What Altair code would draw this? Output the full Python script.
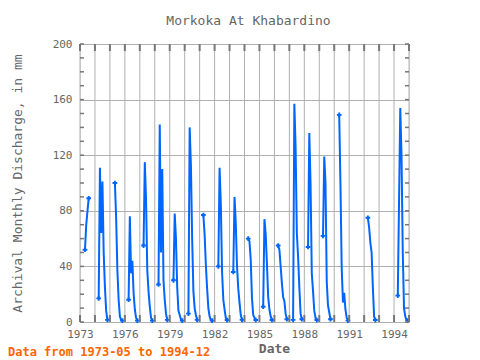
import altair as alt
import pandas as pd

# ---- data (monthly discharge, mm) ----
season_years = [1973, 1974, 1975, 1976, 1977, 1978, 1979, 1980, 1981, 1982,
                1983, 1984, 1985, 1986, 1987, 1988, 1989, 1990, 1992, 1994]
start_months = [5, 4, 5, 4, 4, 4, 4, 4, 4, 4,
                4, 4, 4, 4, 4, 4, 4, 5, 4, 4]
v1973 = [52, 70, 80, 89]
v1974 = [17, 111, 64, 101, 50, 25, 8, 1.5]
v1975 = [100, 75, 37, 16, 4, 1.5, 1]
v1976 = [16, 76, 35, 44, 21, 9, 3, 1]
v1977 = [55, 115, 88, 37, 22, 11, 3, 1]
v1978 = [27, 142, 50, 110, 30, 16, 6, 1.5]
v1979 = [30, 78, 60, 25, 8, 5, 2, 1]
v1980 = [6, 140, 113, 60, 22, 10, 5, 1.5]
v1981 = [77, 63, 41, 24, 10, 4, 1.4, 1]
v1982 = [40, 111, 85, 36, 16, 9, 3, 1.4]
v1983 = [36, 90, 71, 40, 24, 14, 5, 1.5]
v1984 = [60, 58, 45, 17, 5, 3, 1.4]
v1985 = [11, 74, 63, 42, 18, 9, 4, 1.4]
v1986 = [55, 52, 40, 28, 18, 15, 6, 2]
v1987 = [1.5, 157, 126, 64, 47, 25, 6, 2]
v1988 = [54, 136, 100, 35, 22, 8, 3, 1.4]
v1989 = [62, 119, 100, 29, 12, 7, 2]
v1990 = [149, 99, 39, 14, 21, 9, 3, 1]
v1992 = [75, 68, 57, 50, 25, 4, 1.4]
v1994 = [19, 86, 154, 120, 50, 10, 4, 1.4, 1]
season_values = [v1973, v1974, v1975, v1976, v1977, v1978, v1979, v1980, v1981, v1982,
                 v1983, v1984, v1985, v1986, v1987, v1988, v1989, v1990, v1992, v1994]

year_ticks = list(range(1973, 1996))
x_labels = [1973, 1976, 1979, 1982, 1985, 1988, 1991, 1994]
y_labels = [0, 40, 80, 120, 160, 200]
y_minor = list(range(0, 201, 10))

title_text = "Morkoka At Khabardino"
y_title = "Archival Monthly Discharge, in mm"
x_title = "Date"
footer_text = "Data from 1973-05 to 1994-12"

rows = []
for yr, m0, vals in zip(season_years, start_months, season_values):
    for i, v in enumerate(vals):
        m = m0 + i
        rows.append({"t": yr + (m - 1) / 12.0, "q": v, "seg": yr,
                     "edge": (i == 0 or i == len(vals) - 1)})
df = pd.DataFrame(rows)

W, H = 329, 278
MONO = "DejaVu Sans Mono"
TXT = "#666666"
FRAME = "#777777"
GRID = "#b0b0b0"
BLUE = "#0066ff"

xscale = alt.Scale(domain=[1973, 1995], nice=False, zero=False)
yscale = alt.Scale(domain=[0, 200], nice=False)

xaxis = alt.Axis(values=x_labels, format="d",
                 grid=False, tickSize=0, domain=False,
                 labelFont=MONO, labelFontSize=11, labelColor=TXT, labelPadding=6,
                 labelFlush=False, labelOverlap=False,
                 title=x_title, titleFont=MONO, titleFontSize=13, titleFontWeight="bold",
                 titleColor=TXT, titleX=194, titleY=20, titleBaseline="top",
                 titleAlign="center")
yaxis = alt.Axis(values=y_labels, grid=True, gridColor=GRID, gridWidth=1,
                 tickSize=0, domain=False, labelFont=MONO, labelFontSize=11,
                 labelColor=TXT, labelPadding=8,
                 title=y_title, titleFont=MONO, titleFontSize=13, titleFontWeight="normal",
                 titleColor=TXT, titleX=-56, titleY=H / 2, titleAlign="center",
                 titleBaseline="bottom", titleAngle=270)

xt = pd.DataFrame({"t": year_ticks})
yt = pd.DataFrame({"q": y_minor})

X = alt.X("t:Q", scale=xscale, axis=xaxis)
Y = alt.Y("q:Q", scale=yscale, axis=yaxis)

xgrid = alt.Chart(xt).mark_rule(color=GRID, strokeWidth=1).encode(
    x=X, y=alt.value(0), y2=alt.value(H))

base = alt.Chart(df)
line = base.mark_line(color=BLUE, strokeWidth=2, interpolate="linear").encode(
    x=X, y=Y, detail="seg:N", order="t:Q")
pts = base.transform_filter("datum.edge").mark_point(
    shape="cross", filled=True, size=22, color=BLUE, opacity=1).encode(x=X, y=Y)

bot_ticks = alt.Chart(xt).mark_rule(color=FRAME, strokeWidth=2).encode(
    x=X, y=alt.value(H), y2=alt.value(H - 7))
top_ticks = alt.Chart(xt).mark_rule(color=FRAME, strokeWidth=2).encode(
    x=X, y=alt.value(0), y2=alt.value(7))
left_ticks = alt.Chart(yt).mark_rule(color=FRAME, strokeWidth=1.5).encode(
    y=Y, x=alt.value(0), x2=alt.value(4))
right_ticks = alt.Chart(yt).mark_rule(color=FRAME, strokeWidth=1.5).encode(
    y=Y, x=alt.value(W - 4), x2=alt.value(W))

footer = alt.Chart(pd.DataFrame({"txt": [footer_text]})).mark_text(
    align="left", baseline="top", font=MONO, fontSize=12, fontWeight="bold",
    color="#ff6600").encode(x=alt.value(-72), y=alt.value(303), text="txt:N")

chart = alt.layer(xgrid, line, pts, bot_ticks, top_ticks, left_ticks, right_ticks,
                  footer).properties(
    width=W, height=H,
    title=alt.TitleParams(title_text, font=MONO, fontSize=13, fontWeight="normal",
                          color=TXT, anchor="middle", frame="group", offset=0,
                          baseline="alphabetic", dx=4),
    autosize=alt.AutoSizeParams(type="none"),
    padding={"left": 72, "top": 36, "right": 20, "bottom": 36},
).configure_view(stroke=FRAME, strokeWidth=3).configure(background="white")

chart.save("out.html", embed_options={"renderer": "svg", "actions": False})
